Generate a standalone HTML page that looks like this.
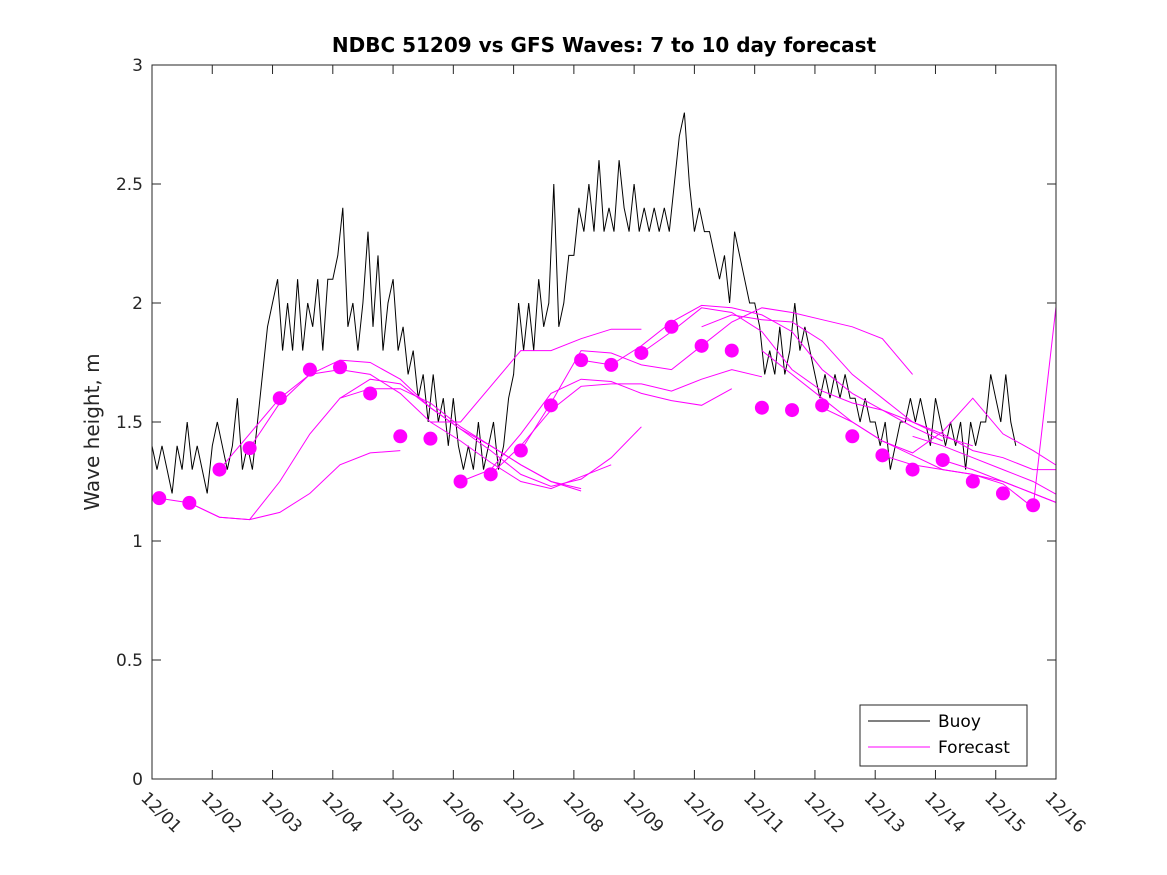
<!DOCTYPE html>
<html><head><meta charset="utf-8"><style>
body{margin:0;background:#fff;}
svg{display:block;font-family:"DejaVu Sans","Liberation Sans",sans-serif;}
</style></head><body>
<svg id="chart" width="1167" height="875" viewBox="0 0 1167 875" xmlns="http://www.w3.org/2000/svg">
<defs><clipPath id="pc"><rect x="152" y="65" width="904" height="714"/></clipPath></defs>
<rect width="1167" height="875" fill="#fff"/>
<text x="604" y="52" text-anchor="middle" font-size="20" font-weight="bold" fill="#000">NDBC 51209 vs GFS Waves: 7 to 10 day forecast</text>
<text transform="translate(99,432) rotate(-90)" text-anchor="middle" font-size="20" fill="#262626">Wave height, m</text>
<g id="plot"></g>
<rect x="152" y="65" width="904" height="714" fill="none" stroke="#262626" stroke-width="1"/>
<g>
<rect x="860" y="705" width="167" height="61" fill="#fff" stroke="#262626"/>
<line x1="868" y1="721" x2="930" y2="721" stroke="#000"/>
<text x="938" y="727" font-size="17" fill="#000">Buoy</text>
<line x1="868" y1="747" x2="930" y2="747" stroke="#f0f"/>
<text x="938" y="753" font-size="17" fill="#000">Forecast</text>
</g>
</svg>
<script>
const xTickLabels=["12/01","12/02","12/03","12/04","12/05","12/06","12/07","12/08","12/09","12/10","12/11","12/12","12/13","12/14","12/15","12/16"];
const yTicks=[0,0.5,1,1.5,2,2.5,3];
const yTickLabels=["0","0.5","1","1.5","2","2.5","3"];
const buoyStep=1/12;
const buoyValues=[
1.4,1.3,1.4,1.3,1.2,1.4,1.3,1.5,1.3,1.4,1.3,1.2,
1.4,1.5,1.4,1.3,1.4,1.6,1.3,1.4,1.3,1.5,1.7,1.9,
2.0,2.1,1.8,2.0,1.8,2.1,1.8,2.0,1.9,2.1,1.8,2.1,
2.1,2.2,2.4,1.9,2.0,1.8,2.0,2.3,1.9,2.2,1.8,2.0,
2.1,1.8,1.9,1.7,1.8,1.6,1.7,1.5,1.7,1.5,1.6,1.4,
1.6,1.4,1.3,1.4,1.3,1.5,1.3,1.4,1.5,1.3,1.4,1.6,
1.7,2.0,1.8,2.0,1.8,2.1,1.9,2.0,2.5,1.9,2.0,2.2,
2.2,2.4,2.3,2.5,2.3,2.6,2.3,2.4,2.3,2.6,2.4,2.3,
2.5,2.3,2.4,2.3,2.4,2.3,2.4,2.3,2.5,2.7,2.8,2.5,
2.3,2.4,2.3,2.3,2.2,2.1,2.2,2.0,2.3,2.2,2.1,2.0,
2.0,1.9,1.7,1.8,1.7,1.9,1.7,1.8,2.0,1.8,1.9,1.8,
1.7,1.6,1.7,1.6,1.7,1.6,1.7,1.6,1.6,1.5,1.6,1.5,
1.5,1.4,1.5,1.3,1.4,1.5,1.5,1.6,1.5,1.6,1.5,1.4,
1.6,1.5,1.4,1.5,1.4,1.5,1.3,1.5,1.4,1.5,1.5,1.7,
1.6,1.5,1.7,1.5,1.4];
const dotStart=0.12;
const dotValues=[1.18,1.16,1.30,1.39,1.60,1.72,1.73,1.62,1.44,1.43,1.25,1.28,1.38,1.57,1.76,1.74,1.79,1.90,1.82,1.80,1.56,1.55,1.57,1.44,1.36,1.30,1.34,1.25,1.20,1.15];
const fcStarts=[0.12,0.62,1.12,1.62,3.12,4.62,5.12,5.62,6.12,7.12,8.12,9.12,10.12,11.12,12.12,12.62,13.12];
const fcValues=[
[1.18,1.16,1.10,1.09,1.12,1.20,1.32,1.37,1.38],
[1.16,1.10,1.09,1.25,1.45,1.60,1.64,1.64,1.58,1.48,1.40,1.32,1.25,1.22],
[1.30,1.45,1.60,1.70,1.76,1.75,1.68,1.56,1.47,1.40,1.32,1.25,1.21],
[1.39,1.58,1.70,1.72,1.70,1.62,1.50,1.42,1.33,1.25,1.22,1.27,1.32],
[1.60,1.68,1.66,1.56,1.47,1.38,1.28,1.23,1.26,1.35,1.48],
[1.50,1.50,1.65,1.80,1.80,1.85,1.89,1.89],
[1.25,1.30,1.45,1.62,1.68,1.67,1.62,1.59,1.57,1.64],
[1.28,1.40,1.55,1.65,1.66,1.66,1.63,1.68,1.72,1.69],
[1.38,1.58,1.80,1.79,1.74,1.72,1.82,1.92,1.98,1.96,1.93,1.90,1.85,1.70],
[1.76,1.74,1.82,1.92,1.99,1.98,1.95,1.88,1.72,1.62,1.55,1.48,1.42],
[1.79,1.88,1.98,1.96,1.88,1.72,1.63,1.58,1.55,1.50,1.44,1.40],
[1.90,1.95,1.93,1.92,1.84,1.70,1.60,1.50,1.45,1.38,1.35,1.30,1.30],
[1.80,1.70,1.60,1.50,1.42,1.37,1.46,1.60,1.45,1.38,1.30,1.27,1.20],
[1.56,1.50,1.42,1.36,1.30,1.28,1.24,1.14,2.25],
[1.36,1.32,1.30,1.28,1.25,1.20,1.15,1.50],
[1.44,1.40,1.35,1.30,1.25,1.18,1.12,1.11],
[1.34,1.30,1.25,1.20,1.15,1.30]];
const X0=152,X1=1056,Y0=779,Y1=65;
const xs=d=>X0+(X1-X0)*d/15;
const ys=v=>Y0-(Y0-Y1)*v/3;
const NS="http://www.w3.org/2000/svg";
const plot=document.getElementById('plot');
function mk(tag,attrs,parent){const e=document.createElementNS(NS,tag);for(const k in attrs)e.setAttribute(k,attrs[k]);(parent||plot).appendChild(e);return e;}
yTicks.forEach((v,i)=>{
 const t=mk('path',{d:`M${X0} ${ys(v)}h9M${X1} ${ys(v)}h-9`,stroke:'#262626'});
 
 
 const l=mk('text',{x:X0-9,y:ys(v)+6,'text-anchor':'end','font-size':'17',fill:'#262626'});
 l.textContent=yTickLabels[i];
 
 
});
xTickLabels.forEach((s,i)=>{
 const x=xs(i);
 const t=mk('path',{d:`M${x} ${Y0}v-9M${x} ${Y1}v9`,stroke:'#262626'});
 
 
 const l=mk('text',{transform:`translate(${x-12},${Y0+20}) rotate(45)`,'font-size':'17',fill:'#262626'});
 l.textContent=s;
 
 
});
const g=mk('g',{'clip-path':'url(#pc)'});


const bp=buoyValues.map((v,i)=>`${i?'L':'M'}${xs(i*buoyStep).toFixed(1)} ${ys(v).toFixed(1)}`).join('');
const buoy=mk('path',{d:bp,fill:'none',stroke:'#000','stroke-width':'1'},g);


fcValues.forEach((arr,j)=>{
 const p=arr.map((v,i)=>`${i?'L':'M'}${xs(fcStarts[j]+i*0.5).toFixed(1)} ${ys(v).toFixed(1)}`).join('');
 const f=mk('path',{d:p,fill:'none',stroke:'#f0f','stroke-width':'1'},g);
 
 
});
dotValues.forEach((v,i)=>{
 const c=mk('circle',{cx:xs(dotStart+i*0.5),cy:ys(v),r:7,fill:'#f0f'});
 
 
});
</script>
</body></html>
